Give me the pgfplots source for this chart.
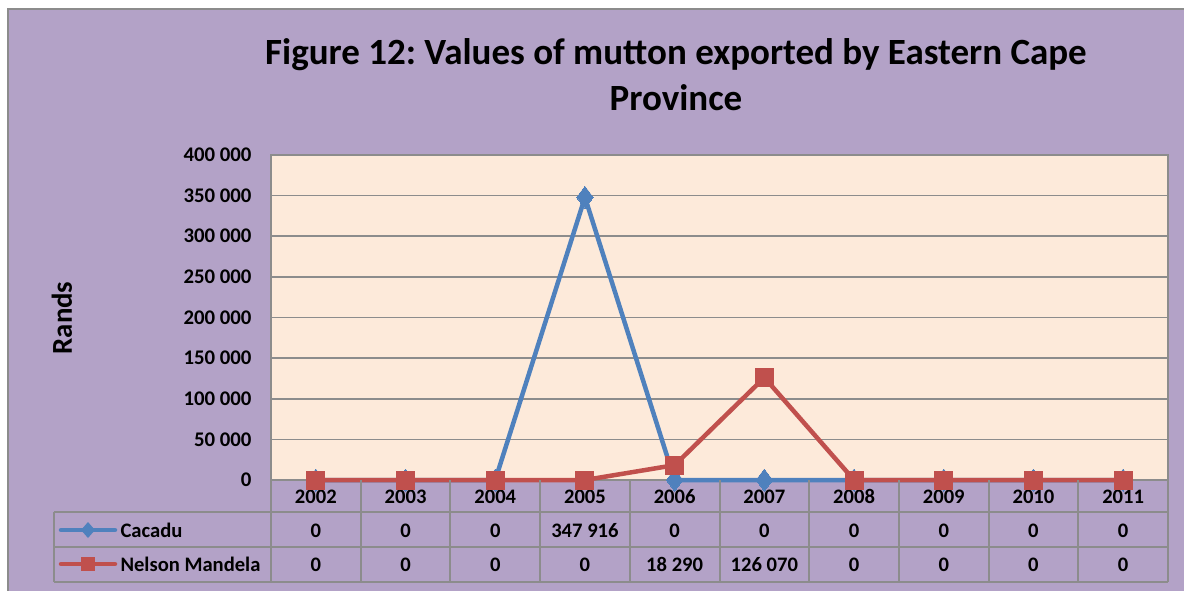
\documentclass[border=0pt]{standalone}
\usepackage{pgfplots}
\pgfplotsset{compat=1.18}
\usepackage{fontspec}
\setmainfont{Carlito}
\frenchspacing
\definecolor{bgpurple}{HTML}{B3A2C7}
\definecolor{plotbg}{HTML}{FDEADA}
\definecolor{gridgray}{HTML}{8C8C8C}
\definecolor{cblue}{HTML}{4F81BD}
\definecolor{cred}{HTML}{C0504D}
\begin{document}
\begin{tikzpicture}[x=1pt,y=1pt]
\useasboundingbox (0,0) rectangle (1184,590);
\fill[white] (0,0) rectangle (1184,590);
\fill[bgpurple] (8,-5) rectangle (1190,581);
\draw[gridgray,line width=2pt] (8,-5) -- (8,581) -- (1190,581);
% title
\node[font=\bfseries\fontsize{37}{46}\selectfont,align=center] at (676,515) {Figure 12: Values of mutton exported by Eastern Cape\\Province};
\node[font=\bfseries\fontsize{28.8}{34}\selectfont,rotate=90] at (62,272) {Rands};
\begin{axis}[
  at={(271pt,110pt)}, anchor=south west,
  width=897pt, height=325pt, scale only axis,
  xmin=-0.5, xmax=9.5, ymin=0, ymax=400000,
  clip=false,
  axis background/.style={fill=plotbg},
  axis line style={draw=gridgray, line width=1.5pt},
  ytick={0,50000,...,400000},
  scaled y ticks=false,
  /pgf/number format/fixed,
  /pgf/number format/precision=0,
  /pgf/number format/1000 sep={\ },
  /pgf/number format/assume math mode=true,
  yticklabel style={font=\bfseries\fontsize{20.8}{24}\selectfont, anchor=east, xshift=-16pt},
  xtick={0,...,9},
  xticklabels={2002,2003,2004,2005,2006,2007,2008,2009,2010,2011},
  xticklabel style={font=\bfseries\fontsize{20.6}{24}\selectfont, anchor=base, yshift=-23pt},
  major tick length=0pt,
  ymajorgrids, grid style={draw=gridgray, line width=1.5pt},
]
\addplot[cblue, line width=4.5pt, mark=diamond*, mark size=11pt, mark options={line width=0pt}] coordinates {
 (0,0) (1,0) (2,0) (3,347916) (4,0) (5,0) (6,0) (7,0) (8,0) (9,0)};
\addplot[cred, line width=4.5pt, mark=square*, mark size=9pt, mark options={line width=0pt}] coordinates {
 (0,0) (1,0) (2,0) (3,0) (4,18290) (5,126070) (6,0) (7,0) (8,0) (9,0)};
\end{axis}
% data table grid
\begin{scope}[gridgray, line width=2pt]
\draw (54,78) -- (1168,78);
\draw (54,43) -- (1168,43);
\draw (54,8) -- (1168,8);
\draw (54,78) -- (54,8);
\foreach \k in {0,...,10} { \draw ({271+89.7*\k},110) -- ({271+89.7*\k},8); }
\end{scope}
% legend keys
\draw[cblue, line width=4.5pt, line cap=round] (61,60) -- (115,60);
\fill[cblue] (88,68) -- (95,60) -- (88,52) -- (81,60) -- cycle;
\draw[cred, line width=4.5pt, line cap=round] (61,26) -- (115,26);
\fill[cred] (81,19) rectangle (95,33);
\begin{scope}[font=\bfseries\fontsize{20.6}{24}\selectfont]
\node[anchor=base west] at (117,53) {Cacadu};
\node[anchor=base west] at (117,19) {Nelson Mandela};
\foreach \v [count=\i from 0] in {0,0,0,347 916,0,0,0,0,0,0} {
  \node[anchor=base] at ({271+89.7*(\i+0.5)},53) {\v};
}
\foreach \v [count=\i from 0] in {0,0,0,0,18 290,126 070,0,0,0,0} {
  \node[anchor=base] at ({271+89.7*(\i+0.5)},19) {\v};
}
\end{scope}
\end{tikzpicture}
\end{document}
